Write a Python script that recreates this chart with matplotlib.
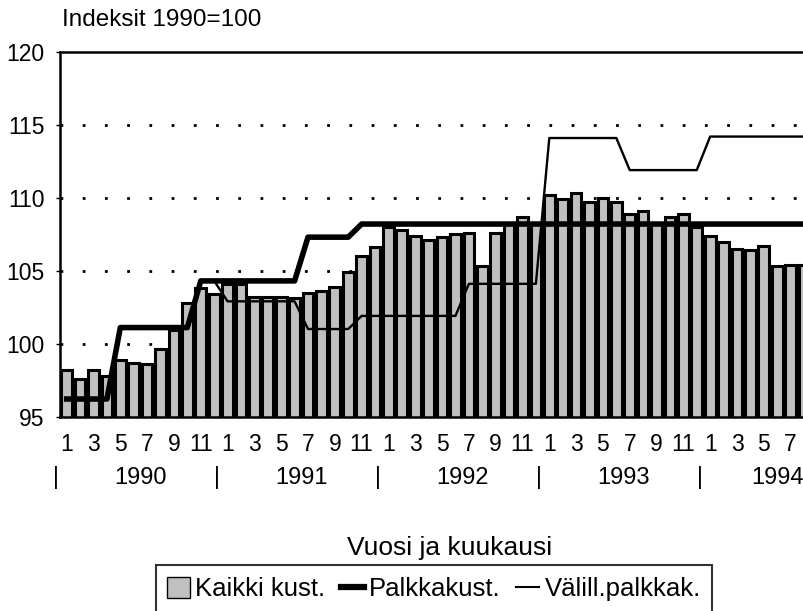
import matplotlib.pyplot as plt
from matplotlib.patches import Patch
from matplotlib.lines import Line2D

plt.rcParams['font.family'] = ['Liberation Sans', 'DejaVu Sans']

# kuukaudet 1/1990 - 8/1994
months = list(range(1, 57))
month_labels = [str(m) for m in [1, 3, 5, 7, 9, 11] * 4 + [1, 3, 5, 7]]
years = ['1990', '1991', '1992', '1993', '1994']

# Kaikki kust. (pylväät)
kaikki = [98.2, 97.6, 98.2, 97.8, 98.9, 98.7, 98.6, 99.6, 100.9, 102.8, 103.8, 103.4,
          104.1, 104.1, 103.2, 103.2, 103.2, 103.1, 103.5, 103.6, 103.9, 104.9, 106.0, 106.6,
          108.0, 107.8, 107.4, 107.1, 107.3, 107.5, 107.6, 105.3, 107.6, 108.2, 108.7, 108.2,
          110.2, 109.9, 110.3, 109.7, 110.0, 109.7, 108.9, 109.1, 108.2, 108.7, 108.9, 108.0,
          107.4, 107.0, 106.5, 106.4, 106.7, 105.3, 105.4, 105.4]

# Palkkakust. (paksu viiva)
palkka = [96.2] * 4 + [101.1] * 6 + [104.3] * 2 + \
         [104.3] * 6 + [107.3] * 4 + [108.2] * 2 + \
         [108.2] * 32

# Välill.palkkak. (ohut viiva)
valill = [96.2] * 4 + [101.1] * 6 + [104.3] * 2 + \
         [102.9] * 6 + [101.0] * 4 + [101.9] * 2 + \
         [101.9] * 6 + [104.1] * 6 + \
         [114.1] * 6 + [111.9] * 6 + \
         [114.2] * 8

fig = plt.figure(figsize=(8.04, 6.11), dpi=100)
ax = fig.add_axes([60 / 804, 1 - 416.5 / 611, 1 - 60 / 804, (416.5 - 52) / 611])

ax.bar(months, kaikki, width=0.8, bottom=0, color='#c0c0c0', edgecolor='black',
       linewidth=2.2, zorder=2)
ax.plot(months, valill, color='black', linewidth=1.7, zorder=3)
ax.plot(months, palkka, color='black', linewidth=4.0, zorder=4)

ax.set_ylim(95, 120)
ax.set_xlim(0.5, 56.0)
ax.set_yticks([95, 100, 105, 110, 115, 120])
ax.tick_params(axis='y', labelsize=16.5, length=3, width=1, direction='out', pad=8)
ax.set_xticks(months[::2])
ax.set_xticklabels(month_labels)
ax.tick_params(axis='x', labelsize=16.5, length=0, pad=12)

for y in [100, 105, 110, 115]:
    ax.axhline(y, color='black', linestyle=(0, (1, 7)), linewidth=2, zorder=1)

for s in ['left', 'top', 'bottom']:
    ax.spines[s].set_linewidth(1.8)
ax.spines['right'].set_visible(False)

# vuodet ja erottimet
tr = ax.get_xaxis_transform()
for i, yr in enumerate(years):
    ax.text(12 * i + 0.2, -0.168, '|', transform=tr, ha='center', va='center',
            fontsize=16.5, clip_on=False)
    xpos = 12 * i + 6.5 if i < 4 else 54.0
    ax.text(xpos, -0.168, yr, transform=tr, ha='center', va='center', fontsize=17,
            clip_on=False)

fig.text(62 / 804, 1 - 20 / 611, 'Indeksit 1990=100', ha='left', va='center', fontsize=17.5)
fig.text(450 / 804, 1 - 548 / 611, 'Vuosi ja kuukausi', ha='center', va='center', fontsize=19)

handles = [Patch(facecolor='#c0c0c0', edgecolor='black', linewidth=1),
           Line2D([0], [0], color='black', linewidth=4.5),
           Line2D([0], [0], color='black', linewidth=1.5)]
leg = fig.legend(handles, ['Kaikki kust.', 'Palkkakust.', 'Välill.palkkak.'],
                 loc='center', bbox_to_anchor=(434 / 804, 1 - 589 / 611), ncol=3,
                 fontsize=18.5, frameon=True, fancybox=False, handlelength=0.9,
                 handleheight=0.9, handletextpad=0.2, columnspacing=0.6,
                 borderpad=0.45)
leg.get_frame().set_edgecolor('black')
leg.get_frame().set_linewidth(1.5)

fig.savefig('out.png', dpi=100)
